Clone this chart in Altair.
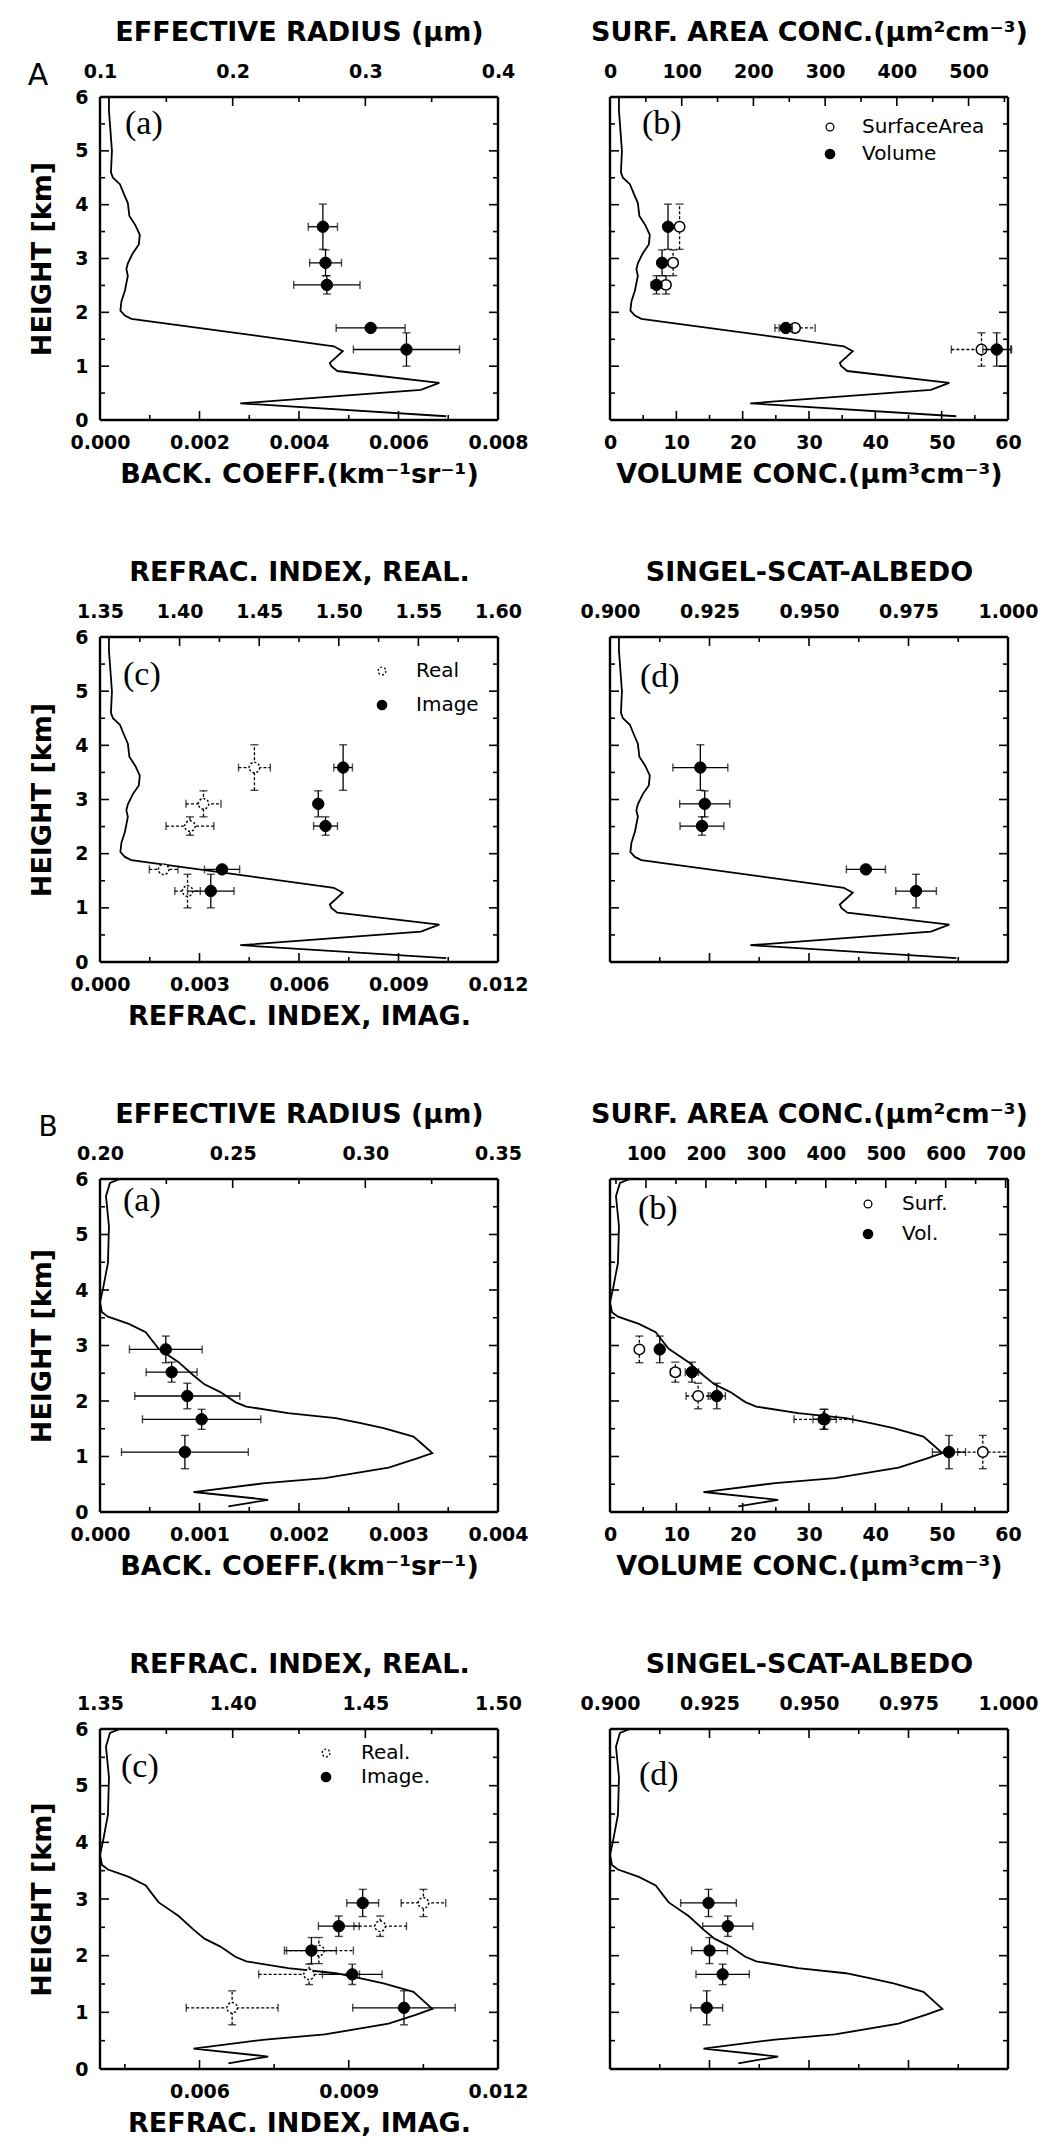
import altair as alt
import pandas as pd

# ---------------- lidar backscatter profiles (km^-1 sr^-1) ----------------
prof_A_height = [0.07, 0.31, 0.56, 0.69, 0.91, 1.00, 1.06, 1.28, 1.37, 1.88, 1.94, 2.03, 2.20, 2.40,
                 2.68, 2.80, 2.91, 3.10, 3.26, 3.44, 3.62, 3.79, 4.03, 4.20, 4.38, 4.50, 4.60, 5.00,
                 5.50, 5.75, 6.00]
prof_A_beta = [0.00696, 0.00282, 0.00645, 0.00682, 0.00477, 0.00465, 0.00462, 0.00488, 0.00470,
               0.00063, 0.00050, 0.00041, 0.00043, 0.00050, 0.00056, 0.00053, 0.00056, 0.00066,
               0.00078, 0.00080, 0.00071, 0.00059, 0.00056, 0.00048, 0.00040, 0.00026, 0.00022,
               0.00024, 0.00020, 0.00018, 0.00018]
prof_B_height = [0.10, 0.22, 0.36, 0.52, 0.61, 0.80, 0.96, 1.06, 1.22, 1.36, 1.51, 1.60, 1.69, 1.78,
                 1.90, 1.98, 2.16, 2.30, 2.46, 2.70, 2.94, 3.10, 3.24, 3.39, 3.52, 3.60, 3.78, 4.02,
                 4.49, 5.15, 5.69, 5.93, 6.00]
prof_B_beta = [0.00129, 0.00169, 0.00094, 0.00166, 0.00226, 0.00290, 0.00318, 0.00334, 0.00324,
               0.00315, 0.00285, 0.00262, 0.00237, 0.00189, 0.00147, 0.00136, 0.00121, 0.00105,
               0.00094, 0.00079, 0.00059, 0.00052, 0.00046, 0.00029, 0.00008, 0.00002, 0.00000,
               0.00003, 0.00008, 0.00009, 0.00006, 0.00010, 0.00020]

# ---------------- retrieval levels ----------------
hA = [3.59, 2.92, 2.51, 1.71, 1.31]
hA_err = [0.42, 0.24, 0.17, 0.06, 0.31]
hB = [2.93, 2.52, 2.09, 1.67, 1.08]
hB_err = [0.24, 0.18, 0.23, 0.18, 0.30]

# case A
reff_A = [0.268, 0.270, 0.271, 0.304, 0.331]
reff_A_err = [0.011, 0.012, 0.025, 0.026, 0.040]
surf_A = [97, 88, 78, 258, 518]
surf_A_err = [5, 6, 6, 28, 42]
vol_A = [8.75, 7.85, 7.0, 26.5, 58.3]
vol_A_err = [0.5, 0.5, 0.8, 1.0, 2.1]
real_A = [1.447, 1.415, 1.4065, 1.390, 1.405]
real_A_err = [0.010, 0.011, 0.015, 0.009, 0.008]
imag_A = [0.00733, 0.00658, 0.00680, 0.00368, 0.00334]
imag_A_err = [0.00028, 0.00010, 0.00036, 0.00053, 0.00070]
alb_A = [0.9227, 0.9238, 0.9231, 0.9643, 0.9769]
alb_A_err = [0.0069, 0.0063, 0.0055, 0.0049, 0.0051]

# case B
reff_B = [0.2248, 0.2270, 0.2329, 0.2383, 0.2320]
reff_B_err = [0.0137, 0.0096, 0.0198, 0.0223, 0.0239]
surf_B = [89, 149, 187, 396, 662]
surf_B_err = [4, 8, 20, 49, 42]
vol_B = [7.5, 12.35, 16.1, 32.35, 51.1]
vol_B_err = [0.4, 1.0, 1.3, 1.75, 2.5]
real_B = [1.4719, 1.4556, 1.4325, 1.4288, 1.3998]
real_B_err = [0.0084, 0.0099, 0.0130, 0.0190, 0.0173]
imag_B = [0.00928, 0.00880, 0.00825, 0.00907, 0.01011]
imag_B_err = [0.00032, 0.00041, 0.00050, 0.00060, 0.00103]
alb_B = [0.92475, 0.9296, 0.9250, 0.9283, 0.9243]
alb_B_err = [0.0070, 0.0063, 0.0045, 0.0067, 0.0040]


# ---------------- tick values ----------------
def ticks(start, stop, step):
    n = int(round((stop - start) / step))
    return [round(start + i * step, 6) for i in range(n + 1)]


def is_major(v, major):
    return abs(v / major - round(v / major)) < 1e-6


FONT = "DejaVu Sans"
W = 398
ROW_H = [323, 325, 333, 340]
YDOM = [0, 6]
Y_TICKS = ticks(0, 6, 0.5)
MAJ_LEN = 9
MIN_LEN = 5


def sc(domain):
    return alt.Scale(domain=domain, nice=False, zero=False)


def xaxis(orient, values, major, fmt, title=None):
    pad = 16 if orient == "top" else 13
    tpad = 16 if orient == "top" else 9
    return alt.Axis(orient=orient, values=[v for v in values if is_major(v, major)], format=fmt,
                    ticks=False, domain=False, grid=False, labelFlush=False,
                    labelOverlap=False, labelPadding=pad, titlePadding=tpad, title=title)


YAX_LEFT = alt.Axis(orient="left", values=ticks(0, 6, 1), format="d", ticks=False, domain=False,
                    grid=False, labelFlush=False, labelOverlap=False, labelPadding=12,
                    titlePadding=18, title="HEIGHT [km]")


def segments(segs, xs, ys, xax, yax, width):
    """Draw straight segments [(x0, y0, x1, y1), ...] as a line mark through the panel scales."""
    rows = []
    for k, (a, b, c, d) in enumerate(segs):
        rows.append({"sx": a, "sy": b, "k": k, "o": 0})
        rows.append({"sx": c, "sy": d, "k": k, "o": 1})
    return alt.Chart(pd.DataFrame(rows)).mark_line(
        color="black", strokeWidth=width, strokeCap="butt").encode(
        x=alt.X("sx:Q", scale=xs, axis=xax), y=alt.Y("sy:Q", scale=ys, axis=yax),
        detail="k:N", order="o:Q")


def x_tick_segs(orient, spec, h):
    values, major_step, _ = spec
    segs = []
    for v in values:
        ln = (MAJ_LEN if is_major(v, major_step) else MIN_LEN) / h * 6
        if orient == "top":
            segs.append((v, 6, v, 6 - ln))
        else:
            segs.append((v, 0, v, ln))
    return segs


def profile_group(hs, bs, bmax, h, xax, yax, bottom_spec=None):
    xs = sc([0, bmax])
    ys = sc(YDOM)
    df = pd.DataFrame({"h": hs, "b": bs, "i": list(range(len(hs)))})
    line = alt.Chart(df).mark_line(color="black", strokeWidth=1.8).encode(
        x=alt.X("b:Q", scale=xs, axis=xax), y=alt.Y("h:Q", scale=ys, axis=yax), order="i:Q")
    segs = []
    for t in Y_TICKS:
        ln = (MAJ_LEN if is_major(t, 1) else MIN_LEN) / W * bmax
        segs.append((0, t, ln, t))
        segs.append((bmax, t, bmax - ln, t))
    if bottom_spec is not None:
        segs += x_tick_segs("bottom", bottom_spec, h)
    frame = [(0, 0, 0, 6), (bmax, 0, bmax, 6), (0, 0, bmax, 0), (0, 6, bmax, 6)]
    return alt.layer(line,
                     segments(segs, xs, ys, xax, yax, 1.6),
                     segments(frame, xs, ys, xax, yax, 2.4))


def series(h, herr, v, verr, spec, orient, ph, xax, filled, dashed, dashed_circle=False):
    df = pd.DataFrame({
        "h": h, "v": v,
        "lo": [a - b for a, b in zip(v, verr)],
        "hi": [a + b for a, b in zip(v, verr)],
        "hlo": [a - b for a, b in zip(h, herr)],
        "hhi": [a + b for a, b in zip(h, herr)],
    })
    xs = sc(spec[2])
    ys = sc(YDOM)
    rk = dict(color="black", strokeWidth=1.3)
    if dashed:
        rk["strokeDash"] = [3, 2]
    base = alt.Chart(df)
    X = lambda f: alt.X(f, scale=xs, axis=xax)
    Y = lambda f: alt.Y(f, scale=ys, axis=None)
    hbar = base.mark_rule(**rk).encode(x=X("lo:Q"), x2="hi:Q", y=Y("h:Q"))
    vbar = base.mark_rule(**rk).encode(x=X("v:Q"), y=Y("hlo:Q"), y2="hhi:Q")
    ck = dict(color="black", thickness=1.4, size=8)
    capl = base.mark_tick(orient="vertical", **ck).encode(x=X("lo:Q"), y=Y("h:Q"))
    capr = base.mark_tick(orient="vertical", **ck).encode(x=X("hi:Q"), y=Y("h:Q"))
    capb = base.mark_tick(orient="horizontal", **ck).encode(x=X("v:Q"), y=Y("hlo:Q"))
    capt = base.mark_tick(orient="horizontal", **ck).encode(x=X("v:Q"), y=Y("hhi:Q"))
    pk = dict(shape="circle", filled=True, stroke="black", opacity=1)
    if filled:
        pk.update(fill="black", size=130, strokeWidth=1)
    else:
        pk.update(fill="white", size=110, strokeWidth=1.5)
        if dashed_circle:
            pk["strokeDash"] = [2, 2]
    pts = base.mark_point(**pk).encode(x=X("v:Q"), y=Y("h:Q"))
    tk = segments(x_tick_segs(orient, spec, ph), xs, ys, xax, None, 1.6)
    return alt.layer(hbar, vbar, capl, capr, capb, capt, pts, tk)


def text_at(txt, x, y, size, font=FONT, weight="normal", align="left"):
    return alt.Chart(pd.DataFrame({"t": [txt]})).mark_text(
        align=align, baseline="middle", font=font, fontSize=size, fontWeight=weight,
        color="black").encode(text="t:N", x=alt.value(x), y=alt.value(y))


def legend(labels, x_sym, x_txt, ys, dashed_open=False):
    out = []
    for i, (lab, yy) in enumerate(zip(labels, ys)):
        if i == 0:
            pk = dict(shape="circle", filled=True, fill="white", stroke="black", strokeWidth=1.3,
                      size=60, opacity=1)
            if dashed_open:
                pk["strokeDash"] = [2, 2]
        else:
            pk = dict(shape="circle", filled=True, fill="black", stroke="black", size=75, opacity=1)
        out.append(alt.Chart(pd.DataFrame({"t": [lab]})).mark_point(**pk).encode(
            x=alt.value(x_sym), y=alt.value(yy)))
        out.append(text_at(lab, x_txt, yy, 20))
    return out


def panel_label(txt, x, y):
    return text_at(txt, x, y, 34, font="Liberation Serif")


def panel(groups, texts, h):
    return alt.layer(*groups, *texts).resolve_scale(
        x="independent", y="independent").properties(width=W, height=h)


T_REFF = "EFFECTIVE RADIUS (\u03bcm)"
T_SURF = "SURF. AREA CONC.(\u03bcm\u00b2cm\u207b\u00b3)"
T_VOL = "VOLUME CONC.(\u03bcm\u00b3cm\u207b\u00b3)"
T_BACK = "BACK. COEFF.(km\u207b\u00b9sr\u207b\u00b9)"
T_REAL = "REFRAC. INDEX, REAL."
T_IMAG = "REFRAC. INDEX, IMAG."
T_ALB = "SINGEL-SCAT-ALBEDO"

# axis definitions: (tick values, major step, domain)
ax_back_A = (ticks(0, 0.008, 0.001), 0.002, [0, 0.008])
ax_back_B = (ticks(0, 0.004, 0.0005), 0.001, [0, 0.004])
ax_reff_A = (ticks(0.1, 0.4, 0.05), 0.1, [0.1, 0.4])
ax_reff_B = (ticks(0.2, 0.35, 0.025), 0.05, [0.2, 0.35])
ax_surf_A = (ticks(0, 550, 50), 100, [0, 555])
ax_surf_B = (ticks(50, 700, 50), 100, [40, 704])
ax_vol = (ticks(0, 60, 5), 10, [0, 60])
ax_real_A = (ticks(1.35, 1.60, 0.025), 0.05, [1.35, 1.60])
ax_real_B = (ticks(1.35, 1.50, 0.025), 0.05, [1.35, 1.50])
ax_imag_A = (ticks(0, 0.012, 0.0015), 0.003, [0, 0.012])
ax_imag_B = (ticks(0.0045, 0.012, 0.0015), 0.003, [0.004, 0.012])
ax_alb = (ticks(0.9, 1.0, 0.0125), 0.025, [0.9, 1.0])


def xa(orient, spec, fmt, title):
    return xaxis(orient, spec[0], spec[1], fmt, title)


H1, H2, H3, H4 = ROW_H

# ---------------- case A ----------------
Aa = panel([
    profile_group(prof_A_height, prof_A_beta, 0.008, H1, xa("bottom", ax_back_A, ".3f", T_BACK),
                  YAX_LEFT, bottom_spec=ax_back_A),
    series(hA, hA_err, reff_A, reff_A_err, ax_reff_A, "top", H1,
           xa("top", ax_reff_A, ".1f", T_REFF), filled=True, dashed=False),
], [
    panel_label("(a)", 25, 27),
    text_at("A", -62, -21, 30, align="center"),
], H1)

Ab = panel([
    profile_group(prof_A_height, prof_A_beta, 0.008, H1, None, None),
    series(hA, hA_err, surf_A, surf_A_err, ax_surf_A, "top", H1,
           xa("top", ax_surf_A, "d", T_SURF), filled=False, dashed=True),
    series(hA, hA_err, vol_A, vol_A_err, ax_vol, "bottom", H1,
           xa("bottom", ax_vol, "d", T_VOL), filled=True, dashed=False),
], [
    panel_label("(b)", 32, 27),
    *legend(["SurfaceArea", "Volume"], 220, 252, [30, 57]),
], H1)

Ac = panel([
    profile_group(prof_A_height, prof_A_beta, 0.008, H2, None, YAX_LEFT),
    series(hA, hA_err, real_A, real_A_err, ax_real_A, "top", H2,
           xa("top", ax_real_A, ".2f", T_REAL), filled=False, dashed=True, dashed_circle=True),
    series(hA, hA_err, imag_A, imag_A_err, ax_imag_A, "bottom", H2,
           xa("bottom", ax_imag_A, ".3f", T_IMAG), filled=True, dashed=False),
], [
    panel_label("(c)", 23, 38),
    *legend(["Real", "Image"], 282, 316, [34, 68], dashed_open=True),
], H2)

Ad = panel([
    profile_group(prof_A_height, prof_A_beta, 0.008, H2, None, None, bottom_spec=ax_back_A),
    series(hA, hA_err, alb_A, alb_A_err, ax_alb, "top", H2,
           xa("top", ax_alb, ".3f", T_ALB), filled=True, dashed=False),
], [
    panel_label("(d)", 30, 40),
], H2)

# ---------------- case B ----------------
Ba = panel([
    profile_group(prof_B_height, prof_B_beta, 0.004, H3, xa("bottom", ax_back_B, ".3f", T_BACK),
                  YAX_LEFT, bottom_spec=ax_back_B),
    series(hB, hB_err, reff_B, reff_B_err, ax_reff_B, "top", H3,
           xa("top", ax_reff_B, ".2f", T_REFF), filled=True, dashed=False),
], [
    panel_label("(a)", 23, 22),
    text_at("B", -52, -51, 28, align="center"),
], H3)

Bb = panel([
    profile_group(prof_B_height, prof_B_beta, 0.004, H3, None, None),
    series(hB, hB_err, surf_B, surf_B_err, ax_surf_B, "top", H3,
           xa("top", ax_surf_B, "d", T_SURF), filled=False, dashed=True),
    series(hB, hB_err, vol_B, vol_B_err, ax_vol, "bottom", H3,
           xa("bottom", ax_vol, "d", T_VOL), filled=True, dashed=False),
], [
    panel_label("(b)", 28, 30),
    *legend(["Surf.", "Vol."], 258, 292, [25, 55]),
], H3)

Bc = panel([
    profile_group(prof_B_height, prof_B_beta, 0.004, H4, None, YAX_LEFT),
    series(hB, hB_err, real_B, real_B_err, ax_real_B, "top", H4,
           xa("top", ax_real_B, ".2f", T_REAL), filled=False, dashed=True, dashed_circle=True),
    series(hB, hB_err, imag_B, imag_B_err, ax_imag_B, "bottom", H4,
           xa("bottom", ax_imag_B, ".3f", T_IMAG), filled=True, dashed=False),
], [
    panel_label("(c)", 21, 38),
    *legend(["Real.", "Image."], 226, 261, [24, 48], dashed_open=True),
], H4)

Bd = panel([
    profile_group(prof_B_height, prof_B_beta, 0.004, H4, None, None, bottom_spec=ax_back_B),
    series(hB, hB_err, alb_B, alb_B_err, ax_alb, "top", H4,
           xa("top", ax_alb, ".3f", T_ALB), filled=True, dashed=False),
], [
    panel_label("(d)", 29, 46),
], H4)

chart = alt.ConcatChart(
    concat=[Aa, Ab, Ac, Ad, Ba, Bb, Bc, Bd],
    columns=2,
    spacing={"row": 217, "column": 112},
    bounds="flush",
    align="each",
).properties(
    padding={"left": 19, "top": 10, "right": 5, "bottom": 5},
    background="white",
).configure_view(
    strokeWidth=0,
).configure_axis(
    labelFont=FONT, labelFontWeight="bold", labelFontSize=19, labelColor="black",
    titleFont=FONT, titleFontWeight="bold", titleFontSize=27, titleColor="black",
)

chart.save("out.html", embed_options={"renderer": "svg", "actions": False})
